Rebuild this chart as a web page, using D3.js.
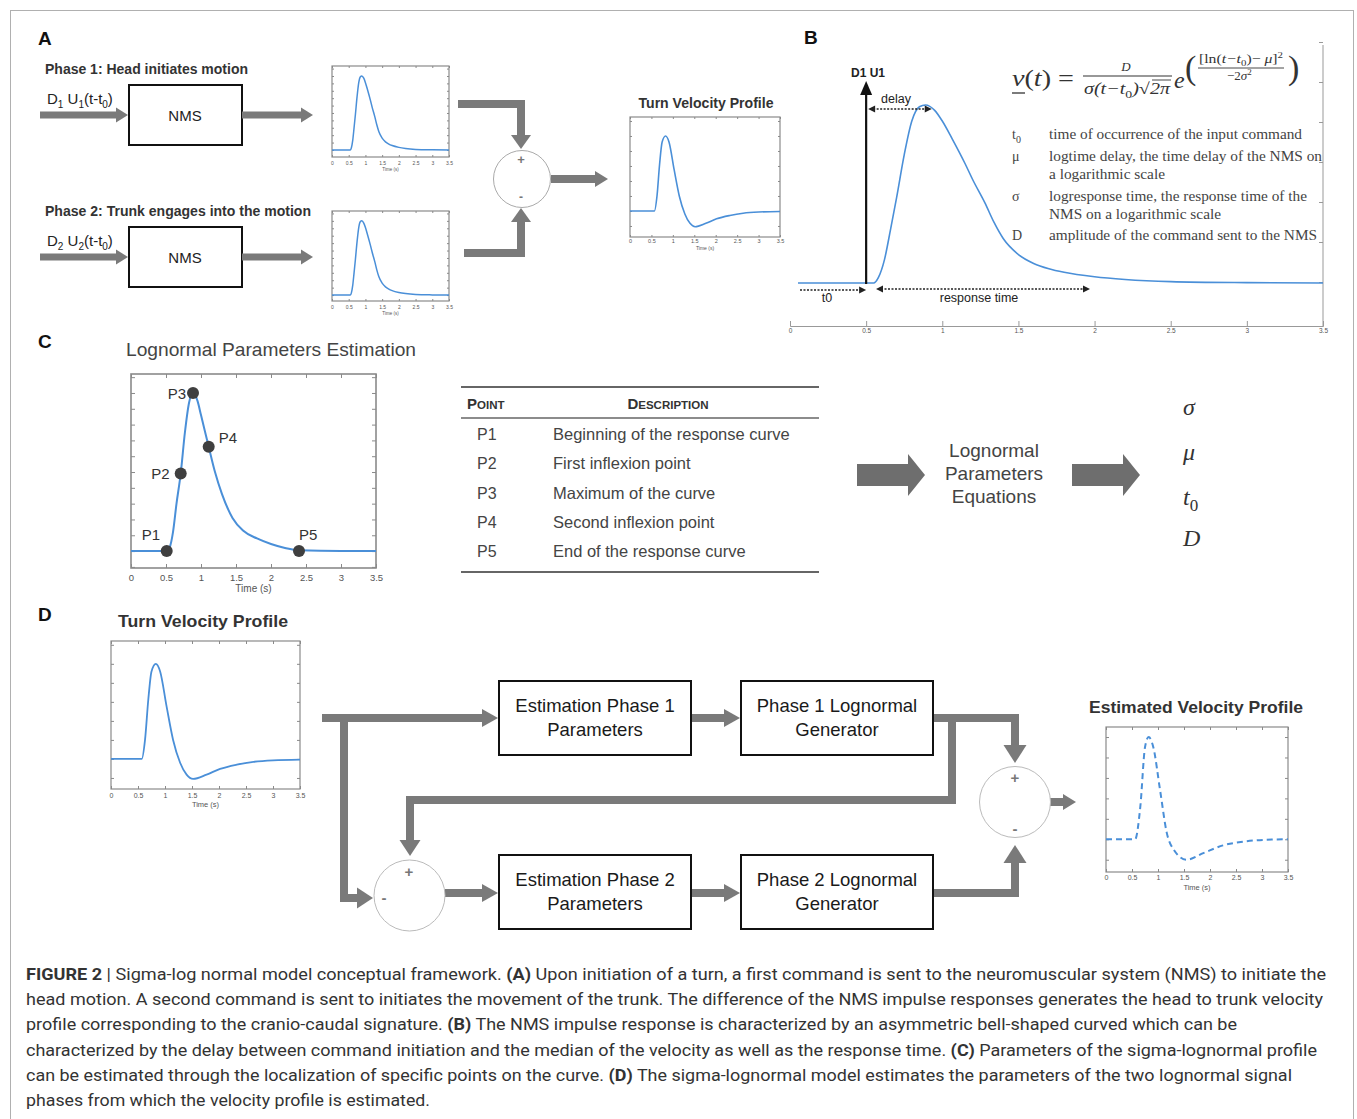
<!DOCTYPE html>
<html lang="en">
<head>
<meta charset="UTF-8">
<title>Sigma-log normal model conceptual framework</title>
<script src="https://d3js.org/d3.v7.min.js"></script>
<style>
  body { margin: 0; background: #fff; }
  svg { display: block; }
</style>
</head>
<body>
<svg id="fig" width="1357" height="1119"></svg>
<script>
// ---- data ----
const timeTicks = [0, 0.5, 1, 1.5, 2, 2.5, 3, 3.5];
const timeTickLabels = ["0", "0.5", "1", "1.5", "2", "2.5", "3", "3.5"];

// NMS impulse response (panels A and B), peak = 1
const impulseT = [0, 0.55, 0.58, 0.62, 0.66, 0.7, 0.75, 0.8, 0.85, 0.89, 0.95, 1.0, 1.065, 1.15, 1.2, 1.28, 1.34, 1.4, 1.5, 1.6, 1.7, 1.8, 2.0, 2.2, 2.5, 3.0, 3.5];
const impulseV = [0, 0, 0.03, 0.13, 0.3, 0.48, 0.72, 0.91, 0.99, 1.0, 0.97, 0.91, 0.81, 0.67, 0.58, 0.45, 0.34, 0.25, 0.16, 0.11, 0.08, 0.06, 0.035, 0.02, 0.008, 0.002, 0];

// lognormal parameters estimation curve (panel C)
const estimationT = [0, 0.51, 0.55, 0.6, 0.65, 0.71, 0.77, 0.83, 0.886, 0.95, 1.0, 1.11, 1.2, 1.3, 1.45, 1.6, 1.8, 2.0, 2.2, 2.4, 3.0, 3.5];
const estimationV = [0, 0, 0.02, 0.12, 0.3, 0.49, 0.75, 0.94, 1.0, 0.95, 0.86, 0.66, 0.5, 0.36, 0.21, 0.13, 0.08, 0.045, 0.02, 0.005, 0, 0];
const pointNames = ["P1", "P2", "P3", "P4", "P5"];
const pointT = [0.51, 0.71, 0.886, 1.11, 2.4];
const pointV = [0, 0.49, 1.0, 0.66, 0];
const pointDescriptions = [
  "Beginning of the response curve",
  "First inflexion point",
  "Maximum of the curve",
  "Second inflexion point",
  "End of the response curve"
];
const paramSymbols = ["σ", "μ", "t0", "D"];

// turn velocity profile (panels A and D)
const turnT = [0, 0.57, 0.63, 0.69, 0.75, 0.83, 0.91, 1.03, 1.15, 1.28, 1.4, 1.52, 1.77, 2.02, 2.33, 2.64, 3.0, 3.5];
const turnV = [0, 0, 0.2, 0.62, 0.92, 1.0, 0.92, 0.55, 0.2, -0.04, -0.165, -0.21, -0.165, -0.105, -0.06, -0.03, -0.014, -0.007];

// estimated velocity profile (panel D, dashed)
const estimatedT = [0, 0.56, 0.66, 0.75, 0.82, 0.91, 1.04, 1.17, 1.3, 1.55, 1.87, 2.25, 2.64, 3.02, 3.5];
const estimatedV = [0, 0, 0.32, 0.9, 1.0, 0.9, 0.48, 0.06, -0.1, -0.2, -0.136, -0.06, -0.023, -0.006, 0];

const defSymbols = ["t0", "μ", "σ", "D"];
const defTexts = [
  ["time of occurrence of the input command"],
  ["logtime delay, the time delay of the NMS on", "a logarithmic scale"],
  ["logresponse time, the response time of the", "NMS on a logarithmic scale"],
  ["amplitude of the command sent to the NMS"]
];

const captionLines = [
  [["FIGURE 2", true], [" | Sigma-log normal model conceptual framework. ", false], ["(A)", true], [" Upon initiation of a turn, a first command is sent to the neuromuscular system (NMS) to initiate the", false]],
  [["head motion. A second command is sent to initiates the movement of the trunk. The difference of the NMS impulse responses generates the head to trunk velocity", false]],
  [["profile corresponding to the cranio-caudal signature. ", false], ["(B)", true], [" The NMS impulse response is characterized by an asymmetric bell-shaped curved which can be", false]],
  [["characterized by the delay between command initiation and the median of the velocity as well as the response time. ", false], ["(C)", true], [" Parameters of the sigma-lognormal profile", false]],
  [["can be estimated through the localization of specific points on the curve. ", false], ["(D)", true], [" The sigma-lognormal model estimates the parameters of the two lognormal signal", false]],
  [["phases from which the velocity profile is estimated.", false]]
];

// ---- drawing ----
const svg = d3.select("#fig");
const SANS = "'Liberation Sans', Arial, sans-serif";
const NARROW = "'Liberation Sans Narrow', 'Liberation Sans', Arial, sans-serif";
const SERIF = "'Liberation Serif', 'Times New Roman', serif";
const BLUE = "#4a8fd8";
const GREY = "#7a7a7a";

// figure frame
svg.append("rect").attr("x", 10.5).attr("y", 10.5).attr("width", 1343).attr("height", 1130)
  .attr("fill", "none").attr("stroke", "#b0b0b0");

function label(x, y, txt, opt = {}) {
  const t = svg.append("text").attr("x", x).attr("y", y)
    .attr("font-family", opt.family || SANS)
    .attr("font-size", opt.size || 14)
    .attr("font-weight", opt.weight || "normal")
    .attr("font-style", opt.style || "normal")
    .attr("fill", opt.color || "#222")
    .attr("text-anchor", opt.anchor || "start")
    .text(txt);
  if (opt.width) t.attr("textLength", opt.width).attr("lengthAdjust", "spacingAndGlyphs");
  return t;
}

// append a run of [text, kind] pieces to a text element; kind: "i" italic, "n" upright, "sub", "sup"
function runs(t, pieces, subSize) {
  let shift = 0;
  pieces.forEach(([s, k]) => {
    const sp = t.append("tspan").text(s);
    let target = 0;
    if (k === "sub") { sp.attr("font-size", subSize).attr("font-style", "normal"); target = subSize * 0.35; }
    if (k === "sup") { sp.attr("font-size", subSize).attr("font-style", "normal"); target = -subSize * 0.6; }
    if (k === "i") sp.attr("font-style", "italic");
    if (k === "n") sp.attr("font-style", "normal");
    if (target !== shift) { sp.attr("dy", target - shift); shift = target; }
  });
  return t;
}

// thick arrow along a polyline; last point is the tip
function arrow(points, w, hw, hl, color = GREY) {
  const n = points.length;
  const [px, py] = points[n - 2], [tx, ty] = points[n - 1];
  const len = Math.hypot(tx - px, ty - py);
  const ux = (tx - px) / len, uy = (ty - py) / len;
  const bx = tx - ux * hl, by = ty - uy * hl;
  const shaft = points.slice(0, -1).concat([[bx + ux, by + uy]]);
  svg.append("path").attr("d", d3.line()(shaft)).attr("fill", "none")
    .attr("stroke", color).attr("stroke-width", w).attr("stroke-linejoin", "miter");
  const nx = -uy * hw / 2, ny = ux * hw / 2;
  svg.append("path").attr("d", `M${tx},${ty}L${bx + nx},${by + ny}L${bx - nx},${by - ny}Z`).attr("fill", color);
}

// small dotted arrow with optional heads at both ends
function dottedArrow(x1, x2, y, both) {
  svg.append("line").attr("x1", x1 + (both ? 5 : 0)).attr("x2", x2 - 5).attr("y1", y).attr("y2", y)
    .attr("stroke", "#222").attr("stroke-width", 1.6).attr("stroke-dasharray", "2,1.5");
  svg.append("path").attr("d", `M${x2},${y}L${x2 - 7},${y - 3.5}L${x2 - 7},${y + 3.5}Z`).attr("fill", "#222");
  if (both) svg.append("path").attr("d", `M${x1},${y}L${x1 + 7},${y - 3.5}L${x1 + 7},${y + 3.5}Z`).attr("fill", "#222");
}

function styleAxis(g, size) {
  g.select(".domain").remove();
  g.attr("font-family", SANS);
  g.selectAll("line").attr("stroke", "#8a8a8a");
  g.selectAll("text").attr("font-size", size).attr("fill", "#555");
}

// boxed MATLAB-like plot
function plot(o) {
  const x = d3.scaleLinear().domain([0, 3.5]).range([o.x0, o.x1]);
  const y = d3.scaleLinear().domain(o.yDomain).range([o.y1, o.y0]);
  const g = svg.append("g");
  const tk = o.tick || 3;
  g.append("g").attr("transform", `translate(0,${o.y1})`)
    .call(d3.axisBottom(x).tickValues(timeTicks).tickSize(-tk).tickPadding(o.pad)
      .tickFormat((d, i) => timeTickLabels[i]))
    .call(a => styleAxis(a, o.font));
  g.append("g").attr("transform", `translate(0,${o.y0})`)
    .call(d3.axisTop(x).tickValues(timeTicks).tickSize(-tk).tickFormat(""))
    .call(a => styleAxis(a, o.font));
  g.append("g").attr("transform", `translate(${o.x0},0)`)
    .call(d3.axisLeft(y).ticks(9).tickSize(-tk).tickFormat(""))
    .call(a => styleAxis(a, o.font));
  g.append("g").attr("transform", `translate(${o.x1},0)`)
    .call(d3.axisRight(y).ticks(9).tickSize(-tk).tickFormat(""))
    .call(a => styleAxis(a, o.font));
  g.append("rect").attr("x", o.x0).attr("y", o.y0).attr("width", o.x1 - o.x0).attr("height", o.y1 - o.y0)
    .attr("fill", "none").attr("stroke", "#8a8a8a").attr("stroke-width", o.frame || 1.2);
  g.append("text").attr("x", (o.x0 + o.x1) / 2).attr("y", o.y1 + o.timeDy)
    .attr("text-anchor", "middle").attr("font-family", SANS).attr("font-size", o.timeFont)
    .attr("fill", "#555").text("Time (s)");
  const line = d3.line().x(d => x(d[0])).y(d => y(d[1])).curve(d3.curveMonotoneX);
  g.append("path").attr("d", line(d3.zip(o.t, o.v))).attr("fill", "none")
    .attr("stroke", BLUE).attr("stroke-width", o.lw || 1.6)
    .attr("stroke-dasharray", o.dash || null);
  return { x, y, g };
}

// ---------- panel A ----------
label(38, 45, "A", { size: 19, weight: "bold", color: "#111" });
label(45, 74, "Phase 1: Head initiates motion", { family: NARROW, size: 14, weight: "bold", color: "#333", width: 203 });
label(45, 216, "Phase 2: Trunk engages into the motion", { family: NARROW, size: 14, weight: "bold", color: "#333", width: 266 });

[[104, "1"], [246, "2"]].forEach(([yy, k]) => {
  const t = svg.append("text").attr("x", 47).attr("y", yy).attr("font-family", NARROW)
    .attr("font-size", 15).attr("fill", "#222");
  runs(t, [["D", ""], [k, "sub"], [" U", ""], [k, "sub"], ["(t-t", ""], ["0", "sub"], [")", ""]], 10);
});

[[85, 115], [227, 257]].forEach(([top, ay]) => {
  arrow([[40, ay], [128, ay]], 7, 15, 12);
  svg.append("rect").attr("x", 129).attr("y", top).attr("width", 113).attr("height", 60)
    .attr("fill", "#fff").attr("stroke", "#111").attr("stroke-width", 2);
  label(185, top + 36, "NMS", { size: 15, anchor: "middle", color: "#222" });
  arrow([[242, ay], [313, ay]], 7, 15, 12);
});

plot({ x0: 332, x1: 449, y0: 66, y1: 157, yDomain: [-0.095, 1.135], t: impulseT, v: impulseV,
  pad: 4, font: 5, timeDy: 14, timeFont: 4.5, tick: 2, lw: 1.5 });
plot({ x0: 332, x1: 449, y0: 211, y1: 301, yDomain: [-0.08, 1.133], t: impulseT, v: impulseV,
  pad: 4, font: 5, timeDy: 14, timeFont: 4.5, tick: 2, lw: 1.5 });

arrow([[458, 104], [521, 104], [521, 149]], 8, 20, 14);
arrow([[464, 253], [521, 253], [521, 208]], 8, 20, 14);
svg.append("circle").attr("cx", 522).attr("cy", 179).attr("r", 28.5)
  .attr("fill", "#fff").attr("stroke", "#aaa").attr("stroke-width", 1);
label(521, 164, "+", { size: 13, weight: "bold", anchor: "middle", color: "#777" });
label(521, 201, "-", { size: 12, weight: "bold", anchor: "middle", color: "#777" });
arrow([[551, 179], [608, 179]], 8, 16, 13);

label(706, 108, "Turn Velocity Profile", { family: NARROW, size: 14, weight: "bold", anchor: "middle", color: "#333", width: 135 });
plot({ x0: 630, x1: 780, y0: 117, y1: 237, yDomain: [-0.347, 1.253], t: turnT, v: turnV,
  pad: 2, font: 5.5, timeDy: 13, timeFont: 5, tick: 2, lw: 1.6 });

// ---------- panel B ----------
label(804, 44, "B", { size: 19, weight: "bold", color: "#111" });
{
  const x = d3.scaleLinear().domain([0, 3.5]).range([790, 1323]);
  const y = d3.scaleLinear().domain([0, 1]).range([283, 105]);
  const ya = d3.scaleLinear().domain([-1, 6]).range([322, 42]);
  svg.append("defs").append("clipPath").attr("id", "clipB")
    .append("rect").attr("x", 798).attr("y", 40).attr("width", 530).attr("height", 290);
  svg.append("g").attr("transform", "translate(0,326)")
    .call(d3.axisBottom(x).tickValues(timeTicks).tickSize(-5).tickPadding(2)
      .tickFormat((d, i) => timeTickLabels[i]))
    .call(a => { a.attr("font-family", SANS); a.selectAll("text").attr("font-size", 6.5).attr("fill", "#555");
      a.selectAll("line").attr("stroke", "#999"); a.select(".domain").attr("stroke", "#999"); });
  svg.append("g").attr("transform", "translate(1323,0)")
    .call(d3.axisRight(ya).tickValues(d3.range(0, 7)).tickSize(-4).tickFormat(""))
    .call(a => { a.selectAll("line").attr("stroke", "#999"); a.select(".domain").remove(); });
  svg.append("line").attr("x1", 1323).attr("x2", 1323).attr("y1", 45).attr("y2", 326).attr("stroke", "#999");
  const line = d3.line().x(d => x(d[0])).y(d => y(d[1])).curve(d3.curveMonotoneX);
  svg.append("path").attr("d", line(d3.zip(impulseT, impulseV))).attr("clip-path", "url(#clipB)")
    .attr("fill", "none").attr("stroke", BLUE).attr("stroke-width", 1.6);

  // command arrow at t0
  const x0 = x(0.5);
  svg.append("line").attr("x1", x0).attr("x2", x0).attr("y1", 284).attr("y2", 92)
    .attr("stroke", "#111").attr("stroke-width", 2.2);
  svg.append("path").attr("d", `M${x0},81L${x0 - 6},95L${x0 + 6},95Z`).attr("fill", "#111");
  label(851, 77, "D1 U1", { size: 12, weight: "bold", color: "#222" });
  label(881, 103, "delay", { size: 12.5, color: "#222" });
  dottedArrow(x0 + 2, x(0.885) + 7, 109, true);
  dottedArrow(800, x0, 290, false);
  label(827, 302, "t0", { size: 12.5, anchor: "middle", color: "#222" });
  dottedArrow(876, 1090, 289, true);
  label(979, 302, "response time", { size: 12.5, anchor: "middle", color: "#222" });
}

// formula
{
  const C = "#333";
  const f = svg.append("text").attr("x", 1012).attr("y", 86).attr("font-family", SERIF)
    .attr("font-size", 24).attr("fill", C).attr("textLength", 62).attr("lengthAdjust", "spacingAndGlyphs");
  runs(f, [["v", "i"], ["(", "n"], ["t", "i"], [") =", "n"]], 14);
  svg.append("line").attr("x1", 1012).attr("x2", 1025).attr("y1", 93).attr("y2", 93)
    .attr("stroke", C).attr("stroke-width", 1.3);
  label(1126, 71, "D", { family: SERIF, size: 13, style: "italic", anchor: "middle", color: C });
  svg.append("line").attr("x1", 1083).attr("x2", 1172).attr("y1", 76).attr("y2", 76)
    .attr("stroke", C).attr("stroke-width", 1.2);
  const den = svg.append("text").attr("x", 1084).attr("y", 94).attr("font-family", SERIF)
    .attr("font-size", 16).attr("font-style", "italic").attr("fill", C)
    .attr("textLength", 86).attr("lengthAdjust", "spacingAndGlyphs");
  runs(den, [["σ(t−t", "i"], ["0", "sub"], [")√2π", "i"]], 11);
  svg.append("line").attr("x1", 1152).attr("x2", 1171).attr("y1", 80).attr("y2", 80)
    .attr("stroke", C).attr("stroke-width", 0.9);
  label(1174, 88, "e", { family: SERIF, size: 24, style: "italic", color: C });
  label(1185, 79, "(", { family: SERIF, size: 34, color: C });
  label(1288, 79, ")", { family: SERIF, size: 34, color: C });
  const num = svg.append("text").attr("x", 1199).attr("y", 63).attr("font-family", SERIF)
    .attr("font-size", 13).attr("fill", C).attr("textLength", 84).attr("lengthAdjust", "spacingAndGlyphs");
  runs(num, [["[ln(", "n"], ["t−t", "i"], ["0", "sub"], [")− ", "n"], ["μ", "i"], ["]", "n"], ["2", "sup"]], 9);
  svg.append("line").attr("x1", 1198).attr("x2", 1284).attr("y1", 68).attr("y2", 68)
    .attr("stroke", C).attr("stroke-width", 0.9);
  const d2 = svg.append("text").attr("x", 1227).attr("y", 80).attr("font-family", SERIF)
    .attr("font-size", 13).attr("fill", C);
  runs(d2, [["−2", "n"], ["σ", "i"], ["2", "sup"]], 9);
}

// definitions
{
  const rowY = [139, 161, 201, 240];
  const widths = [[253], [273, 116], [258, 172], [268]];
  defSymbols.forEach((s, i) => {
    const t = svg.append("text").attr("x", 1012).attr("y", rowY[i]).attr("font-family", SERIF)
      .attr("font-size", 14).attr("fill", "#444");
    if (s === "t0") runs(t, [["t", ""], ["0", "sub"]], 10); else t.text(s);
    defTexts[i].forEach((txt, j) => {
      label(1049, rowY[i] + j * 18, txt, { family: SERIF, size: 14.5, color: "#444", width: widths[i][j] });
    });
  });
}

// ---------- panel C ----------
label(38, 348, "C", { size: 19, weight: "bold", color: "#111" });
label(126, 356, "Lognormal Parameters Estimation", { size: 18.5, color: "#444", width: 290 });
{
  const p = plot({ x0: 131, x1: 376, y0: 374, y1: 568, yDomain: [-0.107, 1.12], t: estimationT, v: estimationV,
    pad: 6, font: 9.5, timeDy: 24, timeFont: 10, tick: 4, lw: 2, frame: 1.6 });
  const offs = [[-25, -11, "start"], [-11, 5, "end"], [-7, 6, "end"], [10, -4, "start"], [0, -11, "start"]];
  pointNames.forEach((n, i) => {
    const cx = p.x(pointT[i]), cy = p.y(pointV[i]);
    svg.append("circle").attr("cx", cx).attr("cy", cy).attr("r", 6).attr("fill", "#3f3f3f");
    label(cx + offs[i][0], cy + offs[i][1], n, { size: 15, anchor: offs[i][2], color: "#333" });
  });
}

// table
{
  const rule = (yy, w) => svg.append("line").attr("x1", 461).attr("x2", 819).attr("y1", yy).attr("y2", yy)
    .attr("stroke", "#666").attr("stroke-width", w);
  rule(387, 2); rule(418, 1.5); rule(572, 2);
  const hdr = (x, big, small, anchor) => {
    const t = svg.append("text").attr("x", x).attr("y", 409).attr("font-family", SANS)
      .attr("font-weight", "bold").attr("fill", "#333").attr("text-anchor", anchor);
    t.append("tspan").attr("font-size", 15).text(big);
    t.append("tspan").attr("font-size", 11.5).text(small);
  };
  hdr(467, "P", "OINT", "start");
  hdr(668, "D", "ESCRIPTION", "middle");
  const rowY = [440, 469, 499, 528, 557];
  pointNames.forEach((n, i) => {
    label(477, rowY[i], n, { size: 16, color: "#444" });
    label(553, rowY[i], pointDescriptions[i], { size: 16.5, color: "#444" });
  });
}

arrow([[857, 475], [925, 475]], 22, 42, 17, "#6e6e6e");
arrow([[1072, 475], [1140, 475]], 22, 42, 17, "#6e6e6e");
["Lognormal", "Parameters", "Equations"].forEach((t, i) =>
  label(994, 457 + i * 23, t, { size: 19, anchor: "middle", color: "#444" }));
[415, 460, 505, 546].forEach((yy, i) => {
  const t = label(1183, yy, "", { family: SERIF, size: 24, style: "italic", color: "#333" });
  const s = paramSymbols[i];
  if (s === "t0") runs(t, [["t", "i"], ["0", "sub"]], 17);
  else t.text(s);
});

// ---------- panel D ----------
label(38, 621, "D", { size: 19, weight: "bold", color: "#111" });
label(203, 627, "Turn Velocity Profile", { size: 16.5, weight: "bold", anchor: "middle", color: "#333", width: 170 });
plot({ x0: 111, x1: 300, y0: 641, y1: 789, yDomain: [-0.316, 1.24], t: turnT, v: turnV,
  pad: 4, font: 7, timeDy: 18, timeFont: 7.5, tick: 3, lw: 1.8 });

label(1196, 713, "Estimated Velocity Profile", { size: 16.5, weight: "bold", anchor: "middle", color: "#333", width: 214 });
plot({ x0: 1106, x1: 1288, y0: 727, y1: 872, yDomain: [-0.32, 1.098], t: estimatedT, v: estimatedV,
  pad: 3.5, font: 7, timeDy: 18, timeFont: 7.5, tick: 3, lw: 2, dash: "6,4" });

// flow diagram
const DW = 8, DH = 21, DL = 16;
arrow([[322, 718], [498, 718]], DW, DH - 3, DL);
arrow([[344, 718], [344, 898], [373, 898]], DW, DH, DL);
arrow([[952, 718], [952, 800], [410, 800], [410, 856]], DW, DH, DL);
arrow([[445, 893], [498, 893]], DW, DH - 3, DL);
arrow([[691, 718], [740, 718]], DW, DH - 3, DL);
arrow([[691, 893], [740, 893]], DW, DH - 3, DL);
arrow([[933, 718], [1015, 718], [1015, 763]], DW, DH + 2, DL + 2);
arrow([[933, 893], [1015, 893], [1015, 845]], DW, DH + 2, DL + 2);
arrow([[1050, 802], [1076, 802]], DW, 16, 13);

[[409.5, 895.5], [1015, 802]].forEach(([cx, cy]) => {
  svg.append("circle").attr("cx", cx).attr("cy", cy).attr("r", 35.5)
    .attr("fill", "#fff").attr("stroke", "#bbb").attr("stroke-width", 1);
});
label(409, 877, "+", { size: 15, weight: "bold", anchor: "middle", color: "#777" });
label(384, 903, "-", { size: 15, weight: "bold", anchor: "middle", color: "#777" });
label(1015, 783, "+", { size: 15, weight: "bold", anchor: "middle", color: "#777" });
label(1015, 834, "-", { size: 15, weight: "bold", anchor: "middle", color: "#777" });

const boxes = [
  [499, 681, ["Estimation Phase 1", "Parameters"]],
  [741, 681, ["Phase 1 Lognormal", "Generator"]],
  [499, 855, ["Estimation Phase 2", "Parameters"]],
  [741, 855, ["Phase 2 Lognormal", "Generator"]]
];
boxes.forEach(([bx, by, lines]) => {
  svg.append("rect").attr("x", bx).attr("y", by).attr("width", 192).attr("height", 74)
    .attr("fill", "#fff").attr("stroke", "#111").attr("stroke-width", 2);
  lines.forEach((t, i) => label(bx + 96, by + 31 + i * 24, t, { size: 18.5, anchor: "middle", color: "#1a1a1a" }));
});

// ---------- caption ----------
{
  const widths = [1300, 1297, 1211, 1291, 1266, 404];
  captionLines.forEach((segs, i) => {
    const t = svg.append("text").attr("x", 26).attr("y", 980 + i * 25.2)
      .attr("font-family", "Roboto, 'Liberation Sans', sans-serif").attr("font-size", 16.8)
      .attr("fill", "#333").attr("textLength", widths[i]).attr("lengthAdjust", "spacingAndGlyphs")
      .style("white-space", "pre");
    segs.forEach(([s, b]) => t.append("tspan").attr("font-weight", b ? "bold" : "normal").text(s));
  });
}
</script>
</body>
</html>
